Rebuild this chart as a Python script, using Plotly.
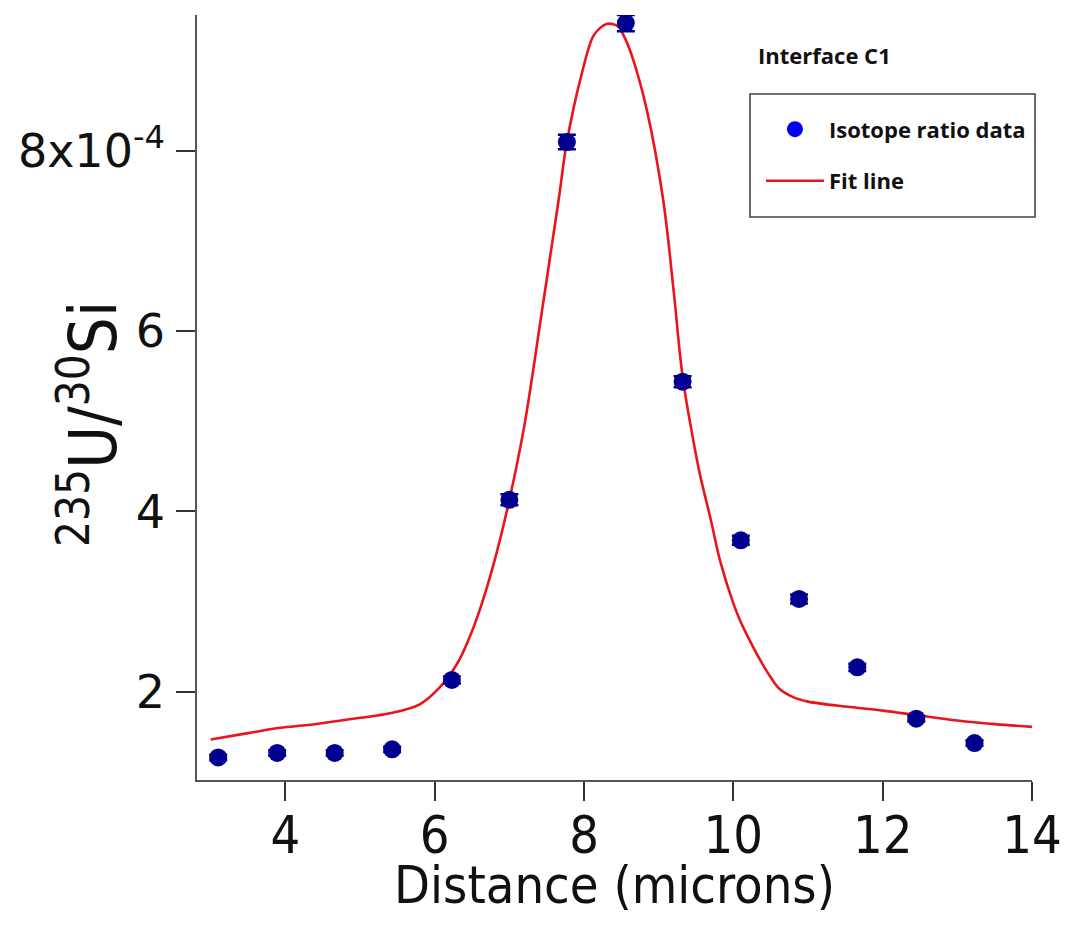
import plotly.graph_objects as go

# ---- data ----
distance_um = [3.10, 3.89, 4.66, 5.43, 6.23, 7.00, 7.77, 8.56, 9.32, 10.10, 10.88, 11.66, 12.45, 13.23]
ratio_e4 = [1.27, 1.32, 1.32, 1.36, 2.13, 4.13, 8.10, 9.42, 5.44, 3.68, 3.03, 2.27, 1.70, 1.43]
ratio_err_e4 = [0.03, 0.03, 0.03, 0.03, 0.04, 0.06, 0.08, 0.09, 0.06, 0.05, 0.05, 0.04, 0.03, 0.03]

fit_x = [3.00, 3.50, 3.93, 4.30, 4.65, 5.00, 5.40, 5.80, 6.07, 6.30, 6.45, 6.60, 6.80, 7.00,
         7.20, 7.45, 7.66, 7.77, 7.97, 8.12, 8.22, 8.30, 8.38, 8.46, 8.55, 8.66, 8.84, 9.06,
         9.20, 9.32, 9.45, 9.55, 9.70, 9.82, 10.00, 10.09, 10.20, 10.36, 10.50, 10.62, 10.80,
         11.00, 11.56, 12.00, 12.45, 13.00, 13.50, 14.00]
fit_e4 = [1.47, 1.54, 1.60, 1.63, 1.67, 1.71, 1.76, 1.86, 2.05, 2.31, 2.57, 2.90, 3.45, 4.13,
          4.95, 6.30, 7.46, 8.10, 8.86, 9.27, 9.37, 9.41, 9.41, 9.38, 9.25, 9.01, 8.46, 7.46,
          6.45, 5.50, 4.85, 4.42, 3.90, 3.46, 2.98, 2.79, 2.60, 2.35, 2.16, 2.03, 1.94,
          1.89, 1.83, 1.79, 1.74, 1.68, 1.64, 1.61]

x_ticks = [4, 6, 8, 10, 12, 14]
y_ticks_e4 = [2, 4, 6, 8]
y_tick_text = ["2", "4", "6", "8x10<sup>-4</sup>"]

scale = 1e-4
ratio = [v * scale for v in ratio_e4]
ratio_err = [v * scale for v in ratio_err_e4]
fit_y = [v * scale for v in fit_e4]
y_ticks = [v * scale for v in y_ticks_e4]

NARROW = "Liberation Sans Narrow, DejaVu Sans Condensed, Roboto Condensed, Arial Narrow, sans-serif"
WIDE = "DejaVu Sans, Verdana, sans-serif"
BOLD = "Open Sans, Lato, sans-serif"

fig = go.Figure()

# fit line
fig.add_trace(go.Scatter(
    x=fit_x, y=fit_y, mode="lines", name="Fit line",
    line=dict(color="#e8151b", width=2.6, shape="spline", smoothing=1.0),
    legendgroup="b", legendrank=2,
))

# data points
fig.add_trace(go.Scatter(
    x=distance_um, y=ratio, mode="markers", name="Isotope ratio data",
    marker=dict(color="#000090", size=18),
    error_y=dict(type="data", array=ratio_err, visible=True, color="#000090", thickness=2.5, width=9),
    showlegend=False,
))

# legend proxy (bright blue dot as in the reference legend)
fig.add_trace(go.Scatter(
    x=[None], y=[None], mode="markers", name="Isotope ratio data",
    marker=dict(color="#0000f0", size=17),
    legendgroup="a", legendrank=1,
))

# page body has an 8px margin: figure is sized/placed so the plot area lands at x 197-1032, y 15-780
fig.update_layout(
    width=1061, height=924,
    margin=dict(l=189, r=37, t=7, b=152),
    plot_bgcolor="white", paper_bgcolor="white",
    xaxis=dict(
        range=[2.816, 14.0001], tickvals=x_ticks, ticktext=[str(v) for v in x_ticks],
        ticks="outside", ticklen=19, tickwidth=1.5, tickcolor="#333",
        showline=True, linecolor="#555", linewidth=1.6,
        showgrid=False, zeroline=False, automargin=False,
        tickfont=dict(family=NARROW, size=52, color="#111"),
        ticklabelstandoff=-10,
    ),
    yaxis=dict(
        range=[1.02e-4, 9.51e-4], tickvals=y_ticks, ticktext=y_tick_text,
        ticks="outside", ticklen=19, tickwidth=1.5, tickcolor="#333",
        showline=True, linecolor="#555", linewidth=1.6,
        showgrid=False, zeroline=False, automargin=False,
        tickfont=dict(family=WIDE, size=46, color="#111"),
        ticklabelstandoff=2,
    ),
    showlegend=True,
    legend=dict(
        x=0.6754, y=0.878, xanchor="left", yanchor="top",
        bgcolor="rgba(0,0,0,0)", borderwidth=0,
        font=dict(family=BOLD, size=22, color="#111", weight="bold"),
        traceorder="grouped", tracegroupgap=20, itemwidth=58,
    ),
    shapes=[dict(
        type="rect", xref="paper", yref="paper",
        x0=0.6623, x1=1.0036, y0=0.736, y1=0.8967,
        line=dict(color="#444", width=1.6), fillcolor="rgba(0,0,0,0)",
    )],
    annotations=[
        dict(text="<b>Interface C1</b>", xref="paper", yref="paper",
             x=0.670, y=0.948, xanchor="left", yanchor="middle", showarrow=False,
             font=dict(family=BOLD, size=22, color="#111")),
        dict(text="Distance (microns)", xref="paper", yref="paper",
             x=0.5, y=-0.137, xanchor="center", yanchor="middle", showarrow=False,
             font=dict(family=NARROW, size=52, color="#111")),
        dict(text="<sup>235</sup>U/<sup>30</sup>Si", xref="paper", yref="paper",
             x=-0.130, y=0.466, xanchor="center", yanchor="middle", showarrow=False,
             textangle=-90, font=dict(family=NARROW, size=65, color="#111")),
    ],
)

fig.write_html("out.html")
